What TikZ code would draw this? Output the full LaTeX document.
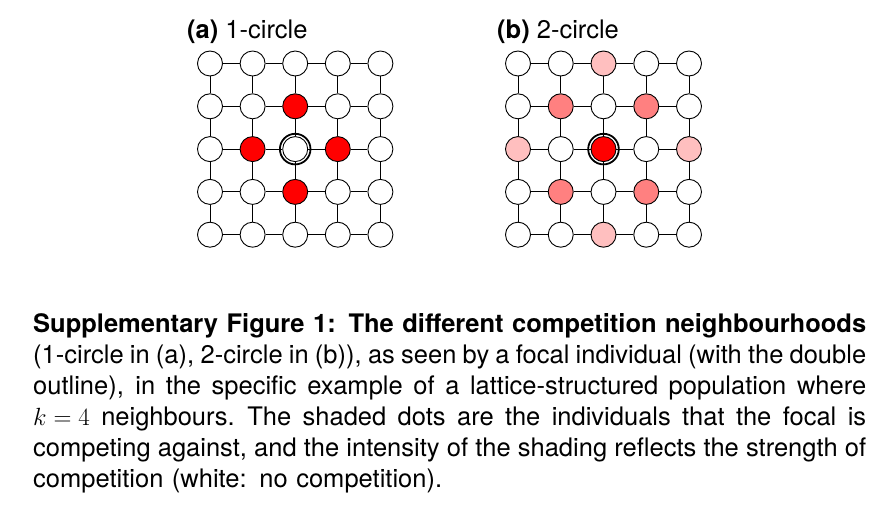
\documentclass[tikz,border=0pt]{standalone}
\usepackage{fontspec}
\setmainfont{TeX Gyre Heros}
\definecolor{compfull}{RGB}{255,0,0}
\definecolor{compmid}{RGB}{255,128,128}
\definecolor{complight}{RGB}{255,191,191}
\newcommand\capline[1]{\hbox to 833pt{\spaceskip=\fontdimen2\font plus 1fil minus 0.5\fontdimen2\font\relax #1}}
\begin{document}
\begin{tikzpicture}[x=1pt,y=-1pt,
  dot/.style={circle,draw=black,line width=0.9pt,minimum size=25pt,inner sep=0pt},
  link/.style={line width=0.9pt},
  ring/.style={line width=1.8pt},
  paneltitle/.style={font=\fontsize{25.5}{30}\selectfont,inner sep=0pt,anchor=base west},
  captext/.style={font=\fontsize{25.5}{31}\selectfont,inner sep=0pt,anchor=base west,text width=833pt}
]
\useasboundingbox (0,0) rectangle (888,505);
% nodes
\foreach \i in {0,...,4}{
  \foreach \j in {0,...,4}{
    \pgfmathtruncatemacro\mydist{abs(\i-2)+abs(\j-2)}
    \pgfmathtruncatemacro\myprod{abs(\i-2)*abs(\j-2)}
    \ifnum\mydist=1 \def\fa{compfull}\else\def\fa{white}\fi
    \ifnum\mydist=0 \def\fb{compfull}\else
      \ifnum\mydist=2 \ifnum\myprod=1 \def\fb{compmid}\else\def\fb{complight}\fi
      \else\def\fb{white}\fi\fi
    \node[dot,fill=\fa] (a-\i-\j) at ({210+42.6*\i},{63.5+42.8*\j}) {};
    \node[dot,fill=\fb] (b-\i-\j) at ({518+42.75*\i},{63.5+42.8*\j}) {};
  }
}
% connectors
\foreach \p in {a,b}{
  \foreach \i in {0,...,3}{
    \foreach \j in {0,...,4}{
      \pgfmathtruncatemacro\ni{\i+1}
      \draw[link] (\p-\i-\j) -- (\p-\ni-\j);
      \draw[link] (\p-\j-\i) -- (\p-\j-\ni);
    }
  }
}
% focal double outline
\draw[ring] (a-2-2.center) circle[radius=15.3pt];
\draw[ring] (b-2-2.center) circle[radius=15.3pt];
% titles
\node[paneltitle] (ta) at (187,39) {\textbf{(a)} 1-circle};
\node[paneltitle] (tb) at (497,39) {\textbf{(b)} 2-circle};
% caption
\node[captext] (cap) at (33,332) {%
\capline{\textbf{Supplementary Figure 1: The different competition neighbourhoods}}
\capline{(1-circle in (a), 2-circle in (b)), as seen by a focal individual (with the double}
\capline{outline), in the specific example of a lattice-structured population where}
\capline{$\thickmuskip=5mu k=4$ neighbours. The shaded dots are the individuals that the focal is}
\capline{competing against, and the intensity of the shading reflects the strength of}
\hbox{competition (white: no competition).}%
};
\end{tikzpicture}
\end{document}
